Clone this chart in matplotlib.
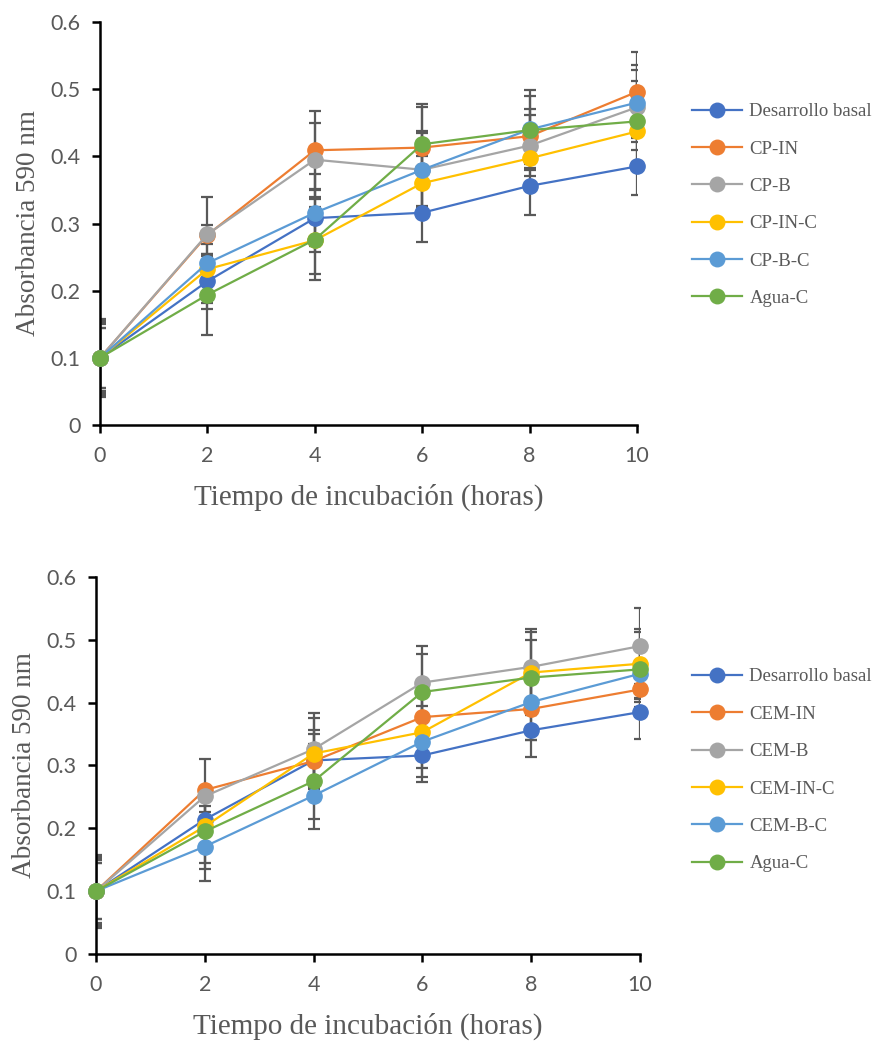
import numpy as np
import matplotlib.pyplot as plt

## incubation times (hours)
t = np.array([0, 2, 4, 6, 8, 10])

## absorbance 590 nm, CP assays
basal = [0.100, 0.214, 0.308, 0.316, 0.356, 0.385]
cp_in = [0.100, 0.283, 0.409, 0.413, 0.430, 0.496]
cp_b = [0.100, 0.284, 0.395, 0.380, 0.416, 0.473]
cp_in_c = [0.100, 0.232, 0.275, 0.360, 0.397, 0.437]
cp_b_c = [0.100, 0.241, 0.316, 0.380, 0.440, 0.480]
agua_c = [0.100, 0.194, 0.276, 0.418, 0.439, 0.452]

basal_err = [0.055, 0.041, 0.042, 0.043, 0.043, 0.043]
cp_in_err = [0.045, 0.057, 0.058, 0.060, 0.041, 0.059]
cp_b_err = [0.050, 0.014, 0.055, 0.057, 0.046, 0.063]
cp_in_c_err = [0.045, 0.051, 0.050, 0.040, 0.015, 0.015]
cp_b_c_err = [0.052, 0.010, 0.058, 0.054, 0.050, 0.049]
agua_c_err = [0.058, 0.060, 0.060, 0.060, 0.060, 0.060]

## absorbance 590 nm, CEM assays
cem_in = [0.100, 0.261, 0.307, 0.377, 0.390, 0.421]
cem_b = [0.100, 0.251, 0.326, 0.432, 0.457, 0.490]
cem_in_c = [0.100, 0.203, 0.319, 0.353, 0.448, 0.462]
cem_b_c = [0.100, 0.171, 0.252, 0.338, 0.401, 0.446]
agua_c2 = [0.100, 0.195, 0.275, 0.417, 0.440, 0.453]

cem_in_err = [0.045, 0.049, 0.050, 0.040, 0.050, 0.020]
cem_b_err = [0.050, 0.015, 0.058, 0.058, 0.061, 0.060]
cem_in_c_err = [0.045, 0.058, 0.056, 0.057, 0.065, 0.055]
cem_b_c_err = [0.052, 0.055, 0.053, 0.056, 0.060, 0.040]

colors = ['#4472C4', '#ED7D31', '#A5A5A5', '#FFC000', '#5B9BD5', '#70AD47']
ecol = '#595959'

plt.rcParams['font.family'] = ['Lato', 'DejaVu Sans']
fig = plt.figure(figsize=(8.78, 10.41), dpi=100)

def panel(rect, series, errs, labels, legend_y):
    ax = fig.add_axes(rect)
    # error bars underneath the lines
    for y, e in zip(series, errs):
        ax.errorbar(t, y, yerr=e, fmt='none', ecolor=ecol, elinewidth=1.6,
                    capsize=4.5, capthick=1.6, zorder=1)
    handles = []
    for y, c, lab in zip(series, colors, labels):
        h, = ax.plot(t, y, '-o', color=c, lw=1.6, ms=11, label=lab, zorder=3,
                     clip_on=False)
        handles.append(h)
    ax.set_xlim(0, 10)
    ax.set_ylim(0, 0.6)
    ax.set_xticks(t)
    ax.set_yticks(np.arange(0, 0.61, 0.1))
    ax.set_yticklabels(['0', '0.1', '0.2', '0.3', '0.4', '0.5', '0.6'])
    for s in ['top', 'right']:
        ax.spines[s].set_visible(False)
    for s in ['left', 'bottom']:
        ax.spines[s].set_linewidth(1.8)
    ax.tick_params(direction='out', length=6, width=1.8, labelsize=15.5,
                   labelcolor='#595959')
    ax.tick_params(axis='x', pad=9)
    ax.tick_params(axis='y', pad=8)
    ax.set_xlabel('Tiempo de incubación (horas)', family='Liberation Serif',
                  fontsize=21, color='#595959', labelpad=13)
    ax.set_ylabel('Absorbancia 590 nm', family='Liberation Serif',
                  fontsize=19.5, color='#595959', labelpad=7)
    fig.legend(handles=handles, loc='upper left',
               bbox_to_anchor=(0.788, legend_y), frameon=False,
               borderpad=0, borderaxespad=0,
               prop={'family': 'Liberation Serif', 'size': 13.5},
               labelcolor='#595959', handlelength=2.7, handletextpad=0.37,
               labelspacing=1.08, markerscale=0.95)
    return ax

panel([0.1139, 0.5917, 0.6116, 0.3872],
      [basal, cp_in, cp_b, cp_in_c, cp_b_c, agua_c],
      [basal_err, cp_in_err, cp_b_err, cp_in_c_err, cp_b_c_err, agua_c_err],
      ['Desarrollo basal', 'CP-IN', 'CP-B', 'CP-IN-C', 'CP-B-C', 'Agua-C'],
      0.901)

panel([0.1093, 0.0836, 0.6196, 0.3621],
      [basal, cem_in, cem_b, cem_in_c, cem_b_c, agua_c2],
      [basal_err, cem_in_err, cem_b_err, cem_in_c_err, cem_b_c_err, agua_c_err],
      ['Desarrollo basal', 'CEM-IN', 'CEM-B', 'CEM-IN-C', 'CEM-B-C', 'Agua-C'],
      0.358)

plt.savefig('out.png', dpi=100)
